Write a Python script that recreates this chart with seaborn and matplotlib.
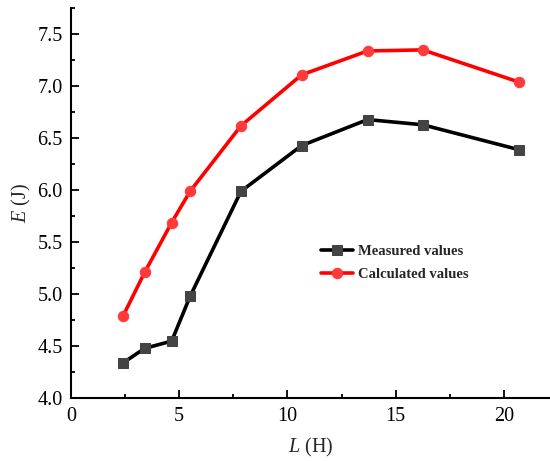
import matplotlib
matplotlib.use("Agg")
import matplotlib.pyplot as plt
import seaborn as sns
import pandas as pd
from matplotlib.ticker import MultipleLocator

L_values = [2.4, 3.4, 4.65, 5.5, 7.85, 10.65, 13.7, 16.25, 20.7]
measured = [4.34, 4.48, 4.55, 4.98, 5.99, 6.43, 6.68, 6.63, 6.39]
calculated = [4.79, 5.21, 5.69, 5.99, 6.62, 7.11, 7.34, 7.35, 7.04]
series_names = ["Measured values", "Calculated values"]
x_label = "L"
y_label = "E"

sns.set_style("ticks")
plt.rcParams["font.family"] = ["Liberation Serif", "DejaVu Serif"]
plt.rcParams["mathtext.fontset"] = "custom"
plt.rcParams["mathtext.rm"] = "Liberation Serif"
plt.rcParams["mathtext.it"] = "Liberation Serif:italic"

fig = plt.figure(figsize=(5.5, 4.61), dpi=100)
ax = fig.add_axes([71 / 550, (461 - 398.3) / 461, 1 - 71 / 550, (398.3 - 8) / 461])

df_m = pd.DataFrame({"L": L_values, "E": measured})
df_c = pd.DataFrame({"L": L_values, "E": calculated})

sns.lineplot(data=df_m, x="L", y="E", ax=ax, color="black", linewidth=2.6,
             marker="s", markersize=7, markerfacecolor="#444444",
             markeredgecolor="#444444", label=series_names[0])
sns.lineplot(data=df_c, x="L", y="E", ax=ax, color="#ff0000", linewidth=2.6,
             marker="o", markersize=7.5, markerfacecolor="#ff3a3a",
             markeredgecolor="#ff3a3a", label=series_names[1])

ax.set_xlim(0, (550 - 71) / 21.65)
ax.set_ylim(4.0, 4.0 + (398.3 - 8) / 104.0)
ax.xaxis.set_major_locator(MultipleLocator(5))
ax.xaxis.set_minor_locator(MultipleLocator(2.5))
ax.yaxis.set_major_locator(MultipleLocator(0.5))
ax.yaxis.set_minor_locator(MultipleLocator(0.25))
ax.tick_params(which="both", direction="in", width=1.3, labelsize=14.5, colors="black")
ax.tick_params(which="major", length=5.5, pad=6)
ax.tick_params(which="minor", length=3)
for s in ["top", "right"]:
    ax.spines[s].set_visible(False)
for s in ["left", "bottom"]:
    ax.spines[s].set_linewidth(1.5)
    ax.spines[s].set_color("black")

ax.set_xlabel(f"${x_label}$ (H)", fontsize=14.5, labelpad=7.5)
ax.set_ylabel(f"${y_label}$ (J)", fontsize=14.5, labelpad=3)

leg = ax.legend(loc="upper left", bbox_to_anchor=(0.495, 0.427), frameon=False,
                prop={"weight": "bold", "size": 10.5}, handlelength=2.2,
                handletextpad=0.3, labelspacing=0.7)

fig.savefig("out.png", dpi=100)
